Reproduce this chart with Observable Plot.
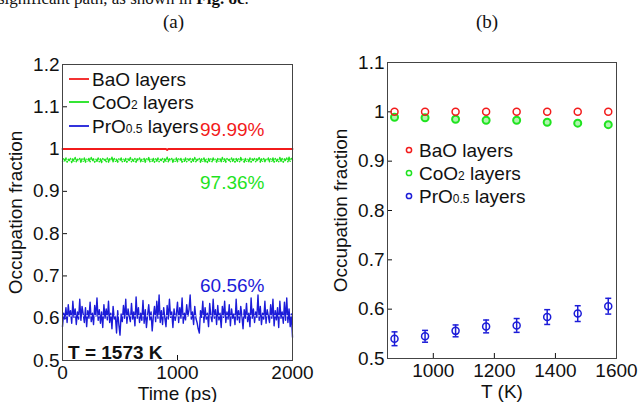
<!DOCTYPE html>
<html><head><meta charset="utf-8">
<script src="https://cdn.jsdelivr.net/npm/d3@7"></script>
<script src="https://cdn.jsdelivr.net/npm/@observablehq/plot@0.6"></script>
<style>
body{margin:0;background:#fff;}
#wrap{position:relative;width:639px;height:402px;overflow:hidden;background:#fff;font-family:"Liberation Sans",Arial,sans-serif;color:#111;}
.abs{position:absolute;white-space:nowrap;line-height:1;}
.sub{font-size:12px;}
svg.panel{position:absolute;top:0;}
svg.sw{vertical-align:middle;position:relative;top:-2px;}
</style></head><body><div id="wrap"></div>
<script>
// ---------- data ----------
const seriesNames = ["BaO layers", "CoO2 layers", "PrO0.5 layers"];
const seriesColors = ["#f21b1b", "#1fe31f", "#1c1cd8"];
const meanPercent = [99.99, 97.36, 60.56];

const timeTicks = [0, 1000, 2000];
const fracTicksA = [0.5, 0.6, 0.7, 0.8, 0.9, 1.0, 1.1, 1.2];
const tempTicks = [1000, 1200, 1400, 1600];
const fracTicksB = [0.5, 0.6, 0.7, 0.8, 0.9, 1.0, 1.1];

const timePs = [
0,10,20,30,40,50,60,70,80,90,100,110,120,130,140,150,160,170,180,190,
200,210,220,230,240,250,260,270,280,290,300,310,320,330,340,350,360,370,380,390,
400,410,420,430,440,450,460,470,480,490,500,510,520,530,540,550,560,570,580,590,
600,610,620,630,640,650,660,670,680,690,700,710,720,730,740,750,760,770,780,790,
800,810,820,830,840,850,860,870,880,890,900,910,920,930,940,950,960,970,980,990,
1000,1010,1020,1030,1040,1050,1060,1070,1080,1090,1100,1110,1120,1130,1140,1150,1160,1170,1180,1190,
1200,1210,1220,1230,1240,1250,1260,1270,1280,1290,1300,1310,1320,1330,1340,1350,1360,1370,1380,1390,
1400,1410,1420,1430,1440,1450,1460,1470,1480,1490,1500,1510,1520,1530,1540,1550,1560,1570,1580,1590,
1600,1610,1620,1630,1640,1650,1660,1670,1680,1690,1700,1710,1720,1730,1740,1750,1760,1770,1780,1790,
1800,1810,1820,1830,1840,1850,1860,1870,1880,1890,1900,1910,1920,1930,1940,1950,1960,1970,1980,1990,
2000];

const baoTime = [
1,1,1,1,1,1,1,1,1,1,1,1,1,1,1,1,1,1,1,1,
1,1,1,1,1,1,1,1,1,1,1,1,1,1,1,1,1,1,1,1,
1,1,1,1,1,1,1,1,1,1,1,1,1,1,1,1,1,1,1,1,
1,1,1,1,1,1,1,1,1,1,1,1,1,1,1,1,1,1,1,1,
1,1,1,1,1,1,1,1,1,1,1,0.998,1,1,1,1,1,1,1,1,
1,1,1,1,1,1,1,1,1,1,1,1,1,1,1,1,1,1,1,1,
1,1,1,1,1,1,1,1,1,1,1,1,1,1,1,1,1,1,1,1,
1,1,1,1,1,1,1,1,1,1,1,1,1,1,1,1,1,1,1,1,
1,1,1,1,1,1,1,1,1,1,1,1,1,1,1,1,1,1,1,1,
1,1,1,1,1,1,1,1,1,1,1,1,1,1,1,1,1,1,1,1,
1];

const coTime = [
0.970,0.977,0.972,0.979,0.969,0.976,0.973,0.978,0.968,0.977,
0.971,0.980,0.970,0.976,0.973,0.978,0.969,0.977,0.971,0.979,
0.969,0.976,0.972,0.978,0.970,0.980,0.973,0.977,0.969,0.976,
0.971,0.979,0.970,0.977,0.968,0.978,0.973,0.976,0.970,0.979,
0.969,0.977,0.973,0.981,0.970,0.978,0.971,0.976,0.969,0.977,
0.973,0.979,0.970,0.976,0.971,0.978,0.969,0.977,0.973,0.980,
0.970,0.976,0.971,0.978,0.969,0.977,0.973,0.979,0.970,0.976,
0.971,0.978,0.969,0.977,0.973,0.980,0.970,0.976,0.971,0.978,
0.969,0.977,0.971,0.979,0.970,0.976,0.973,0.978,0.969,0.977,
0.971,0.981,0.970,0.977,0.973,0.978,0.969,0.976,0.971,0.979,
0.970,0.977,0.973,0.978,0.969,0.976,0.971,0.979,0.970,0.977,
0.973,0.978,0.969,0.977,0.971,0.980,0.970,0.976,0.973,0.978,
0.969,0.977,0.971,0.979,0.970,0.976,0.968,0.978,0.971,0.977,
0.970,0.979,0.973,0.976,0.969,0.978,0.971,0.977,0.970,0.980,
0.971,0.977,0.969,0.978,0.973,0.976,0.970,0.979,0.971,0.977,
0.969,0.978,0.971,0.977,0.970,0.980,0.973,0.976,0.969,0.978,
0.971,0.976,0.970,0.979,0.969,0.977,0.973,0.978,0.970,0.977,
0.973,0.980,0.969,0.977,0.971,0.978,0.970,0.976,0.973,0.979,
0.970,0.977,0.971,0.979,0.969,0.978,0.971,0.976,0.970,0.980,
0.971,0.978,0.969,0.977,0.973,0.979,0.970,0.981,0.971,0.978,
0.974];

const prTime = [
0.580,0.612,0.598,0.625,0.590,0.632,0.605,0.618,0.588,0.640,
0.602,0.622,0.585,0.615,0.598,0.645,0.595,0.628,0.610,0.590,
0.625,0.580,0.618,0.600,0.638,0.592,0.612,0.585,0.630,0.605,
0.648,0.595,0.620,0.588,0.615,0.578,0.632,0.600,0.622,0.596,
0.640,0.590,0.612,0.575,0.628,0.598,0.605,0.565,0.618,0.585,
0.560,0.610,0.592,0.630,0.600,0.645,0.588,0.622,0.605,0.592,
0.635,0.598,0.615,0.582,0.650,0.600,0.625,0.590,0.612,0.595,
0.642,0.588,0.620,0.578,0.608,0.632,0.596,0.615,0.570,0.605,
0.628,0.592,0.640,0.600,0.655,0.590,0.618,0.585,0.625,0.600,
0.580,0.630,0.598,0.645,0.602,0.615,0.578,0.622,0.595,0.610,
0.638,0.590,0.625,0.600,0.648,0.588,0.612,0.596,0.632,0.605,
0.620,0.655,0.598,0.615,0.585,0.628,0.600,0.590,0.575,0.565,
0.618,0.602,0.640,0.590,0.625,0.598,0.612,0.580,0.635,0.605,
0.592,0.645,0.600,0.620,0.585,0.630,0.596,0.612,0.578,0.628,
0.602,0.640,0.590,0.615,0.598,0.632,0.582,0.622,0.600,0.610,
0.585,0.645,0.596,0.618,0.590,0.628,0.605,0.575,0.620,0.600,
0.635,0.592,0.612,0.580,0.648,0.600,0.622,0.590,0.615,0.602,
0.655,0.595,0.628,0.585,0.612,0.598,0.640,0.588,0.620,0.605,
0.590,0.632,0.600,0.645,0.582,0.618,0.596,0.625,0.578,0.640,
0.600,0.615,0.588,0.638,0.595,0.648,0.590,0.622,0.580,0.610,
0.555];

const meanLines = [0.9736, 0.6056];

const temps = [873, 973, 1073, 1173, 1273, 1373, 1473, 1573];
const baoT = [1.000, 1.000, 1.000, 1.000, 1.000, 1.000, 1.000, 1.000];
const coT  = [0.989, 0.988, 0.985, 0.983, 0.983, 0.979, 0.977, 0.974];
const prT  = [0.540, 0.545, 0.556, 0.565, 0.567, 0.584, 0.591, 0.606];
const prErr = [0.014, 0.012, 0.012, 0.013, 0.014, 0.015, 0.016, 0.016];

// ---------- helpers ----------
const fmt = d => String(+(+d).toFixed(1));
const style = {fontSize: "19px", fontFamily: "Liberation Sans, Arial, sans-serif", background: "transparent", color: "#111", overflow: "visible"};
const cap = {draw(ctx, size) { const w = Math.sqrt(size / Math.PI); ctx.moveTo(-w, 0); ctx.lineTo(w, 0); }};

const rowsTime = timePs.map((t, i) => ({t, bao: baoTime[i], co: coTime[i], pr: prTime[i]}));
const rowsT = temps.map((T, i) => ({T, bao: baoT[i], co: coT[i], pr: prT[i], lo: prT[i] - prErr[i], hi: prT[i] + prErr[i]}));

// ---------- panel (a) ----------
const plotA = Plot.plot({
  width: 320, height: 402,
  marginLeft: 62, marginRight: 28, marginTop: 64, marginBottom: 42,
  style,
  x: {domain: [0, 2000]},
  y: {domain: [0.5, 1.2]},
  marks: [
    Plot.axisX(timeTicks, {tickSize: -5, tickPadding: 10, tickFormat: d => String(d), label: "Time (ps)", labelAnchor: "center", labelOffset: 39, labelArrow: "none"}),
    Plot.axisY(fracTicksA, {tickSize: -5, tickPadding: 8, tickFormat: fmt, label: "Occupation fraction", labelAnchor: "center", labelOffset: 54, labelArrow: "none"}),
    Plot.line(rowsTime, {x: "t", y: "pr", stroke: seriesColors[2], strokeWidth: 1.4}),
    Plot.line(rowsTime, {x: "t", y: "co", stroke: seriesColors[1], strokeWidth: 1.4}),
    Plot.line(rowsTime, {x: "t", y: "bao", stroke: seriesColors[0], strokeWidth: 1.9}),
    Plot.ruleY(meanLines, {stroke: "white", strokeWidth: 1, strokeDasharray: "2,2"}),
    Plot.frame({stroke: "#444"})
  ]
});

// ---------- panel (b) ----------
const plotB = Plot.plot({
  width: 319, height: 402,
  marginLeft: 67, marginRight: 23, marginTop: 62, marginBottom: 44,
  style,
  x: {domain: [850, 1600]},
  y: {domain: [0.5, 1.1]},
  marks: [
    Plot.axisX(tempTicks, {tickSize: -5, tickPadding: 10, tickFormat: d => String(d), label: "T (K)", labelAnchor: "center", labelOffset: 39, labelArrow: "none"}),
    Plot.axisY(fracTicksB, {tickSize: -5, tickPadding: 8, tickFormat: fmt, label: "Occupation fraction", labelAnchor: "center", labelOffset: 54, labelArrow: "none"}),
    Plot.ruleX(rowsT, {x: "T", y1: "lo", y2: "hi", stroke: seriesColors[2], strokeWidth: 1.5}),
    Plot.dot(rowsT, {x: "T", y: "lo", symbol: cap, r: 3, stroke: seriesColors[2], strokeWidth: 1.5}),
    Plot.dot(rowsT, {x: "T", y: "hi", symbol: cap, r: 3, stroke: seriesColors[2], strokeWidth: 1.5}),
    Plot.dot(rowsT, {x: "T", y: "pr", r: 3.5, stroke: seriesColors[2], strokeWidth: 1.5, fill: "none"}),
    Plot.dot(rowsT, {x: "T", y: "co", r: 3.5, stroke: seriesColors[1], strokeWidth: 2, fill: "#aef5ae"}),
    Plot.dot(rowsT, {x: "T", y: "bao", r: 3.5, stroke: seriesColors[0], strokeWidth: 1.5, fill: "none"}),
    Plot.frame({stroke: "#444"})
  ]
});

const wrap = document.getElementById("wrap");
plotA.classList.add("panel"); plotA.style.left = "0px";
plotB.classList.add("panel"); plotB.style.left = "320px";
wrap.appendChild(plotA);
wrap.appendChild(plotB);

// ---------- html text overlays ----------
function add(html, left, top, css = "") {
  const d = document.createElement("div");
  d.className = "abs";
  d.style.cssText += `left:${left}px;top:${top}px;${css}`;
  d.innerHTML = html;
  wrap.appendChild(d);
  return d;
}
add('significant path, as shown in <b>Fig. 8c</b>.', -2, -10, 'font-size:17px;font-family:"Liberation Serif","Times New Roman",serif;');
add('(a)', 163, 12, 'font-size:19px;font-family:"Liberation Serif","Times New Roman",serif;');
add('(b)', 476, 12, 'font-size:19px;font-family:"Liberation Serif","Times New Roman",serif;');

const legendLabels = ['BaO layers', 'CoO<span class="sub">2</span> layers', 'PrO<span class="sub">0.5</span> layers'];
const rowTopsA = [70, 93, 117];
legendLabels.forEach((lab, i) => {
  add(`<svg class="sw" width="20" height="4" style="margin-right:3px"><line x1="0" x2="20" y1="2" y2="2" stroke="${seriesColors[i]}" stroke-width="1.8"/></svg>${lab}`, 69, rowTopsA[i], 'font-size:19px;');
});
const rowTopsB = [141, 164, 187];
legendLabels.forEach((lab, i) => {
  add(`<svg class="sw" width="8" height="8" style="margin-right:6px"><circle cx="4" cy="4" r="2.6" fill="none" stroke="${seriesColors[i]}" stroke-width="1.5"/></svg>${lab}`, 405, rowTopsB[i], 'font-size:19px;');
});
const annTops = [120, 173, 276];
meanPercent.forEach((p, i) => {
  add(`${p.toFixed(2)}%`, 200, annTops[i], `font-size:19px;color:${seriesColors[i]};`);
});
add('T = 1573 K', 68, 343, 'font-size:19px;font-weight:bold;');
</script></body></html>
